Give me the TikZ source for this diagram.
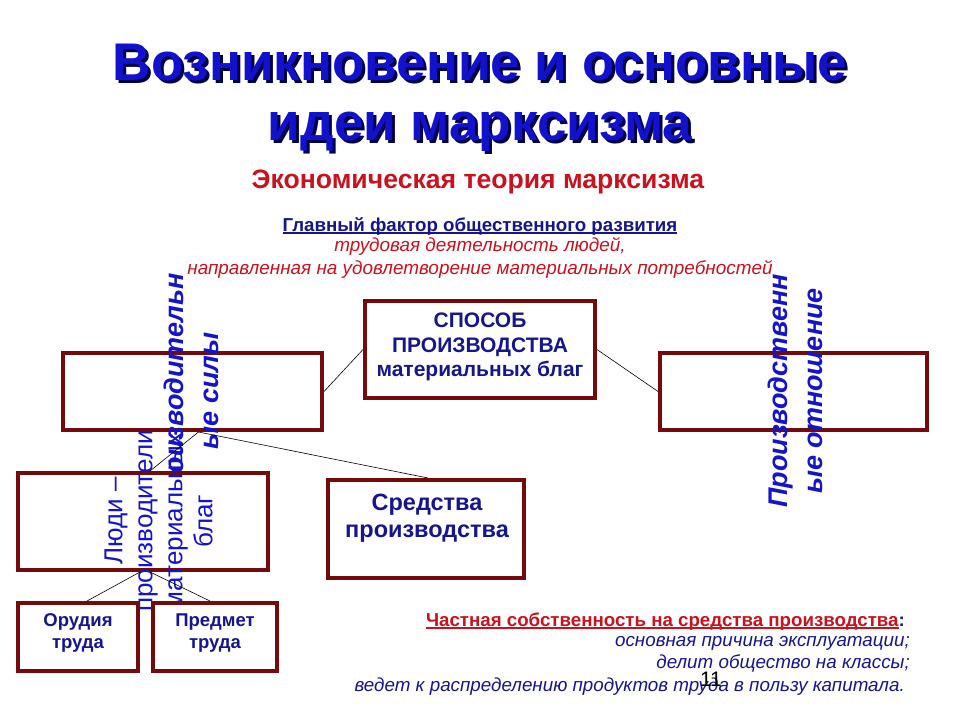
\documentclass[tikz,border=0pt]{standalone}
\usepackage{fontspec}
\setmainfont{Liberation Sans}
\newcommand\myul[1]{\leavevmode\setbox0\hbox{#1}\rlap{\rule[-2.5pt]{\wd0}{1.3pt}}\box0}
\definecolor{boxred}{RGB}{115,10,12}
\definecolor{titleblue}{RGB}{18,18,205}
\definecolor{shadownavy}{RGB}{0,0,70}
\definecolor{navytext}{RGB}{22,22,140}
\definecolor{rotblue}{RGB}{20,20,200}
\definecolor{redtext}{RGB}{200,18,30}
\begin{document}
\begin{tikzpicture}[x=1pt,y=-1pt,
  box/.style={draw=boxred, line width=4pt, fill=white, inner sep=0pt},
  conn/.style={draw=black, line width=0.6pt},
  titletext/.style={text=titleblue, font=\fontsize{53}{60}\selectfont\bfseries, anchor=base, inner sep=0pt},
  titleshadow/.style={text=shadownavy, font=\fontsize{53}{60}\selectfont\bfseries, anchor=base, inner sep=0pt},
  boxtext/.style={text=navytext, align=center, inner sep=0pt},
  rottext/.style={text=rotblue, rotate=90, align=center, inner sep=0pt,
     font=\fontsize{27}{35}\selectfont\bfseries\itshape},
]
\useasboundingbox[fill=white] (0,0) rectangle (960,720);

% title
\node[titleshadow] (t1s) at (483,83) {Возникновение и основные};
\node[titletext] (t1) at (480,80) {Возникновение и основные};
\node[titleshadow] (t2s) at (483,143) {идеи марксизма};
\node[titletext] (t2) at (480,140) {идеи марксизма};

\node[anchor=base, inner sep=0pt, text=redtext, font=\fontsize{26.6}{30}\selectfont\bfseries] (sub) at (478,188) {Экономическая теория марксизма};

\node[anchor=base, inner sep=0pt, text=navytext, font=\fontsize{18.7}{22}\selectfont\bfseries] (gl) at (480,231) {\myul{Главный фактор общественного развития}};
\node[anchor=base, inner sep=0pt, text=redtext, font=\fontsize{18.9}{22}\selectfont\itshape] (tr) at (480,251) {трудовая деятельность людей,};
\node[anchor=base, inner sep=0pt, text=redtext, font=\fontsize{18.9}{22}\selectfont\itshape] (np) at (480,274) {направленная на удовлетворение материальных потребностей};

% boxes
\node[box, minimum width=230pt, minimum height=97pt] (sposob) at (480,349.5) {};
\node[boxtext, font=\fontsize{21}{24.5}\selectfont\bfseries] (sposobt) at (480,347) {СПОСОБ\\ПРОИЗВОДСТВА\\материальных благ};

\node[box, minimum width=259pt, minimum height=77pt] (leftb) at (192.5,391.5) {};
\node[rottext] (pst) at (191,391) {Производительн\\ые силы};

\node[box, minimum width=267pt, minimum height=77pt] (rightb) at (793.5,391.5) {};
\node[rottext] (pot) at (795,391) {Производственн\\ые отношение};

\node[box, minimum width=250pt, minimum height=97pt] (ludi) at (143,521.5) {};
\node[boxtext, text=rotblue, rotate=90, font=\fontsize{26}{30}\selectfont] (ludit) at (158.5,521) {Люди –\\производители\\материальных\\благ};

\node[box, minimum width=196pt, minimum height=98pt] (sred) at (426,529) {};
\node[boxtext, font=\fontsize{23.5}{26.5}\selectfont\bfseries] (sredt) at (427,518) {Средства\\производства};

\node[box, minimum width=120pt, minimum height=68pt] (orud) at (78,637) {};
\node[boxtext, font=\fontsize{18.5}{21.5}\selectfont\bfseries] (orudt) at (78,633) {Орудия\\труда};

\node[box, minimum width=124pt, minimum height=68pt] (pred) at (215,637) {};
\node[boxtext, font=\fontsize{18.5}{21.5}\selectfont\bfseries] (predt) at (215,633) {Предмет\\труда};

% connectors
\draw[conn] (sposob.west) -- (leftb.east);
\draw[conn] (sposob.east) -- (rightb.west);
\draw[conn] ([xshift=6pt]leftb.south) -- ([xshift=7pt]ludi.north);
\draw[conn] ([xshift=6pt]leftb.south) -- ([xshift=2pt]sred.north);
\draw[conn] ([xshift=-3pt]ludi.south) -- ([xshift=9pt]orud.north);
\draw[conn] ([xshift=7pt]ludi.south) -- ([xshift=-5pt]pred.north);

% bottom text
\node[anchor=base east, inner sep=0pt, font=\fontsize{18.7}{22}\selectfont\bfseries] (chs) at (905,626) {\textcolor{redtext}{\myul{Частная собственность на средства производства}}\textcolor{navytext}{:}};
\node[anchor=base east, inner sep=0pt, text=navytext, font=\fontsize{18.8}{22}\selectfont\itshape] (b1) at (910,646) {основная причина эксплуатации;};
\node[anchor=base east, inner sep=0pt, text=navytext, font=\fontsize{18.8}{22}\selectfont\itshape] (b2) at (910,668) {делит общество на классы;};
\node[anchor=base east, inner sep=0pt, text=navytext, font=\fontsize{18.8}{22}\selectfont\itshape] (b3) at (905,691) {ведет к распределению продуктов труда в пользу капитала.};

\node[anchor=base, inner sep=0pt, text=black, font=\fontsize{21}{24}\selectfont] (num) at (711,686) {11};
\end{tikzpicture}
\end{document}
